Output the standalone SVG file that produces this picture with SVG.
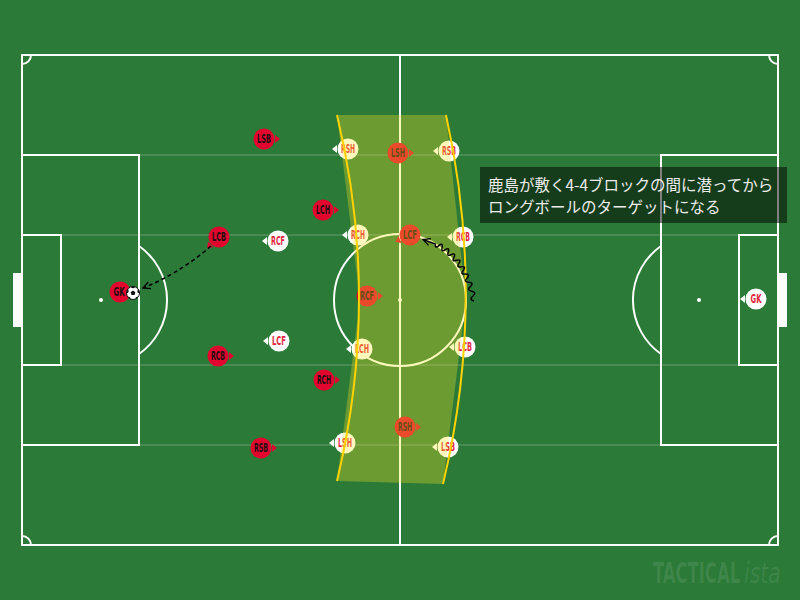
<svg xmlns="http://www.w3.org/2000/svg" width="800" height="600" viewBox="0 0 800 600">
<defs>
<style>
.ln{fill:none;stroke:#fff;stroke-width:2}
.lane{stroke:#fff;stroke-opacity:0.14;stroke-width:2}
.red circle,.red .tri{fill:#e2062f}
.red text{fill:#1c1010}
.wht circle,.wht .tri{fill:#fff}
.wht text{fill:#e3243b}
.lbl{font-family:"DejaVu Sans Condensed",sans-serif;font-size:11.5px;font-weight:bold;text-anchor:middle}
.yl{fill:none;stroke:#ffd200;stroke-width:2}
.note{font-family:"Noto Sans CJK JP",sans-serif;font-size:15.5px;fill:#ececec}
.wm{fill:#fff;fill-opacity:0.09;font-family:"DejaVu Sans Condensed",sans-serif;font-size:29px}
</style>
<path id="tri" d="M11,-4 L16,0 L11,4 Z"/>
<marker id="chev" viewBox="0 0 10 10" refX="9" refY="5" markerWidth="9" markerHeight="9" markerUnits="userSpaceOnUse" orient="auto">
<path d="M1,1 L9,5 L1,9" fill="none" stroke="#000" stroke-width="1.4"/>
</marker>
<clipPath id="ballclip"><circle cx="133" cy="293" r="6.5"/></clipPath>
</defs>
<rect width="800" height="600" fill="#2b7a37"/>
<g id="pitch">
<g class="lane">
<line x1="22" y1="155" x2="778" y2="155"/>
<line x1="22" y1="235" x2="778" y2="235"/>
<line x1="22" y1="365" x2="778" y2="365"/>
<line x1="22" y1="445" x2="778" y2="445"/>
</g>
<rect class="ln" x="22" y="55" width="756" height="490"/>
<line class="ln" x1="400" y1="55" x2="400" y2="545"/>
<circle class="ln" cx="400" cy="300" r="66"/>
<circle cx="400" cy="300" r="2" fill="#fff"/>
<rect class="ln" x="22" y="155" width="117" height="290"/>
<rect class="ln" x="22" y="235" width="39" height="130"/>
<rect class="ln" x="661" y="155" width="117" height="290"/>
<rect class="ln" x="739" y="235" width="39" height="130"/>
<rect x="13" y="273" width="9" height="54" fill="#fff"/>
<rect x="778" y="273" width="9" height="54" fill="#fff"/>
<circle cx="101" cy="300" r="2" fill="#fff"/>
<circle cx="699" cy="300" r="2" fill="#fff"/>
<path class="ln" d="M139,246 A66,66 0 0 1 139,354"/>
<path class="ln" d="M661,246 A66,66 0 0 0 661,354"/>
<path class="ln" d="M22,64 A9,9 0 0 0 31,55"/>
<path class="ln" d="M769,55 A9,9 0 0 0 778,64"/>
<path class="ln" d="M22,536 A9,9 0 0 1 31,545"/>
<path class="ln" d="M769,545 A9,9 0 0 1 778,536"/>
</g>
<g id="p-red-lsb" class="red"><use href="#tri" class="tri" transform="translate(264,139)"/><circle cx="264" cy="139" r="10.5"/><text class="lbl" x="264" y="143" textLength="14" lengthAdjust="spacingAndGlyphs">LSB</text></g>
<g id="p-red-lch" class="red"><use href="#tri" class="tri" transform="translate(323,210)"/><circle cx="323" cy="210" r="10.5"/><text class="lbl" x="323" y="214" textLength="14" lengthAdjust="spacingAndGlyphs">LCH</text></g>
<g id="p-red-lcb" class="red"><use href="#tri" class="tri" transform="translate(219,237) rotate(138)"/><circle cx="219" cy="237" r="10.5"/><text class="lbl" x="219" y="241" textLength="14" lengthAdjust="spacingAndGlyphs">LCB</text></g>
<g id="p-red-lsh" class="red"><use href="#tri" class="tri" transform="translate(398,153)"/><circle cx="398" cy="153" r="10.5"/><text class="lbl" x="398" y="157" textLength="14" lengthAdjust="spacingAndGlyphs">LSH</text></g>
<g id="p-red-lcf" class="red"><use href="#tri" class="tri" transform="translate(410,235) rotate(155)"/><circle cx="410" cy="235" r="10.5"/><text class="lbl" x="410" y="239" textLength="14" lengthAdjust="spacingAndGlyphs">LCF</text></g>
<g id="p-red-rcf" class="red"><use href="#tri" class="tri" transform="translate(367,296)"/><circle cx="367" cy="296" r="10.5"/><text class="lbl" x="367" y="300" textLength="14" lengthAdjust="spacingAndGlyphs">RCF</text></g>
<g id="p-red-gk" class="red"><circle cx="120" cy="292" r="10.5"/><text class="lbl" x="119" y="296" textLength="11" lengthAdjust="spacingAndGlyphs">GK</text></g>
<g id="p-red-rcb" class="red"><use href="#tri" class="tri" transform="translate(218,356)"/><circle cx="218" cy="356" r="10.5"/><text class="lbl" x="218" y="360" textLength="14" lengthAdjust="spacingAndGlyphs">RCB</text></g>
<g id="p-red-rch" class="red"><use href="#tri" class="tri" transform="translate(324,380)"/><circle cx="324" cy="380" r="10.5"/><text class="lbl" x="324" y="384" textLength="14" lengthAdjust="spacingAndGlyphs">RCH</text></g>
<g id="p-red-rsb" class="red"><use href="#tri" class="tri" transform="translate(261,448)"/><circle cx="261" cy="448" r="10.5"/><text class="lbl" x="261" y="452" textLength="14" lengthAdjust="spacingAndGlyphs">RSB</text></g>
<g id="p-red-rsh" class="red"><use href="#tri" class="tri" transform="translate(405,427)"/><circle cx="405" cy="427" r="10.5"/><text class="lbl" x="405" y="431" textLength="14" lengthAdjust="spacingAndGlyphs">RSH</text></g>
<g id="p-wht-rsh" class="wht"><use href="#tri" class="tri" transform="translate(348,149) rotate(180)"/><circle cx="348" cy="149" r="10.5"/><text class="lbl" x="348" y="153" textLength="14" lengthAdjust="spacingAndGlyphs">RSH</text></g>
<g id="p-wht-rsb" class="wht"><use href="#tri" class="tri" transform="translate(449,151) rotate(180)"/><circle cx="449" cy="151" r="10.5"/><text class="lbl" x="449" y="155" textLength="14" lengthAdjust="spacingAndGlyphs">RSB</text></g>
<g id="p-wht-rch" class="wht"><use href="#tri" class="tri" transform="translate(358,235) rotate(180)"/><circle cx="358" cy="235" r="10.5"/><text class="lbl" x="358" y="239" textLength="14" lengthAdjust="spacingAndGlyphs">RCH</text></g>
<g id="p-wht-rcb" class="wht"><use href="#tri" class="tri" transform="translate(463,237) rotate(180)"/><circle cx="463" cy="237" r="10.5"/><text class="lbl" x="463" y="241" textLength="14" lengthAdjust="spacingAndGlyphs">RCB</text></g>
<g id="p-wht-rcf" class="wht"><use href="#tri" class="tri" transform="translate(278,241) rotate(180)"/><circle cx="278" cy="241" r="10.5"/><text class="lbl" x="278" y="245" textLength="14" lengthAdjust="spacingAndGlyphs">RCF</text></g>
<g id="p-wht-lcf" class="wht"><use href="#tri" class="tri" transform="translate(279,341) rotate(180)"/><circle cx="279" cy="341" r="10.5"/><text class="lbl" x="279" y="345" textLength="14" lengthAdjust="spacingAndGlyphs">LCF</text></g>
<g id="p-wht-lch" class="wht"><use href="#tri" class="tri" transform="translate(362,349) rotate(180)"/><circle cx="362" cy="349" r="10.5"/><text class="lbl" x="362" y="353" textLength="14" lengthAdjust="spacingAndGlyphs">LCH</text></g>
<g id="p-wht-lcb" class="wht"><use href="#tri" class="tri" transform="translate(465,347) rotate(180)"/><circle cx="465" cy="347" r="10.5"/><text class="lbl" x="465" y="351" textLength="14" lengthAdjust="spacingAndGlyphs">LCB</text></g>
<g id="p-wht-lsh" class="wht"><use href="#tri" class="tri" transform="translate(345,443) rotate(180)"/><circle cx="345" cy="443" r="10.5"/><text class="lbl" x="345" y="447" textLength="14" lengthAdjust="spacingAndGlyphs">LSH</text></g>
<g id="p-wht-lsb" class="wht"><use href="#tri" class="tri" transform="translate(448,447) rotate(180)"/><circle cx="448" cy="447" r="10.5"/><text class="lbl" x="448" y="451" textLength="14" lengthAdjust="spacingAndGlyphs">LSB</text></g>
<g id="p-wht-gk" class="wht"><use href="#tri" class="tri" transform="translate(756,299) rotate(180)"/><circle cx="756" cy="299" r="10.5"/><text class="lbl" x="756" y="303" textLength="11" lengthAdjust="spacingAndGlyphs">GK</text></g>
<g id="ball">
<circle cx="133" cy="293" r="6.5" fill="#fff"/>
<g clip-path="url(#ballclip)" fill="#111">
<polygon points="133,290.5 135.4,292.2 134.5,295 131.5,295 130.6,292.2"/>
<circle cx="133" cy="286" r="2.2"/>
<circle cx="139.5" cy="291" r="2.2"/>
<circle cx="137.5" cy="299" r="2.2"/>
<circle cx="128.5" cy="299" r="2.2"/>
<circle cx="126.5" cy="291" r="2.2"/>
</g>
<circle cx="133" cy="293" r="6.5" fill="none" stroke="#111" stroke-width="1"/>
</g>
<g id="block-zone">
<polygon points="337,115 446,115 466,300 443,484 337,481 360,300" fill="#ffe726" fill-opacity="0.3"/>
<path class="yl" d="M337,115 Q381,298 337,481"/>
<path class="yl" d="M446,115 Q487,300 443,484"/>
</g>
<g id="connectors" fill="none" stroke="#000">
<path d="M211,246 Q180,273 143,288" stroke-width="1.6" stroke-dasharray="4,3" marker-end="url(#chev)"/>
<path d="M474,301 Q468.59,299.53 472.93,296.0 Q477.18,292.34 471.7,291.21 Q466.24,290.33 470.33,286.62 Q474.30,282.77 468.8,282.24 Q463.34,281.99 467.13,278.06 Q470.78,273.96 465.3,274.09 Q459.90,274.50 463.33,270.32 Q466.57,265.96 461.2,266.76 Q455.94,267.87 458.93,263.40 Q461.70,258.75 456.5,260.25 Q451.46,262.04 453.93,257.30 Q456.13,252.38 451.2,254.56 Q446.47,257.02 448.33,252.02 Q449.89,246.87 445.3,249.69 Q440.94,252.76 442.13,247.56 Q442.99,242.25 438.8,245.64 Q434.86,249.25 435.33,243.92 L423,239.5" stroke-width="1.5" marker-end="url(#chev)"/>
</g>
<g id="note">
<rect x="480" y="167" width="307" height="56" fill="#000" fill-opacity="0.5"/>
<text class="note" x="488" y="191">鹿島が敷く4-4ブロックの間に潜ってから</text>
<text class="note" x="488" y="213">ロングボールのターゲットになる</text>
</g>
<g id="watermark">
<text class="wm" transform="translate(653,583) scale(0.63,1)" x="0" y="0" font-weight="bold">TACTICAL</text>
<text class="wm" transform="translate(744,583) scale(0.78,1)" x="0" y="0" font-style="italic">ista</text>
</g>
</svg>
